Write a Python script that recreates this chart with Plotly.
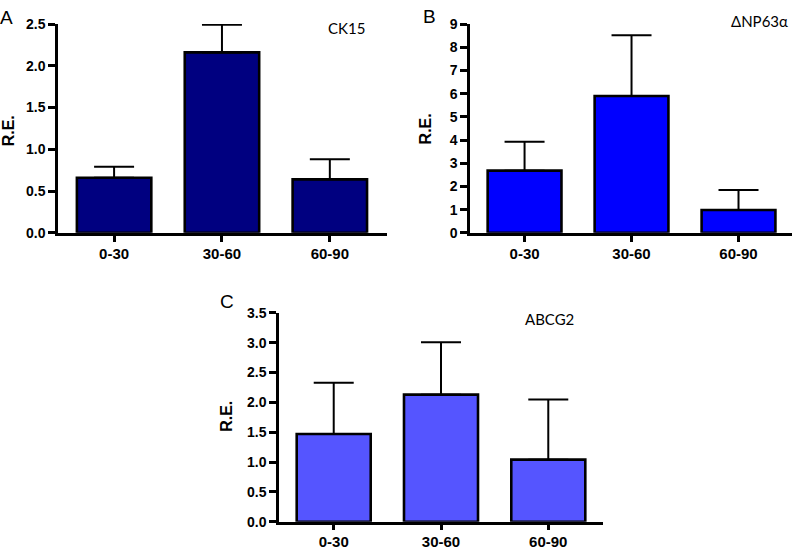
import plotly.graph_objects as go

W, H = 796, 553

categories = ["0-30", "30-60", "60-90"]

ck15_mean = [0.66, 2.16, 0.64]
ck15_upper = [0.79, 2.49, 0.88]

dnp63_mean = [2.68, 5.90, 0.98]
dnp63_upper = [3.92, 8.52, 1.85]

abcg2_mean = [1.47, 2.13, 1.04]
abcg2_upper = [2.33, 3.01, 2.05]

panel_letters = ["A", "B", "C"]
gene_labels = ["CK15", "\u0394NP63\u03b1", "ABCG2"]
y_title = "R.E."


def px(x):
    return x / W


def py(y):
    return 1 - y / H


fig = go.Figure()

panels = [
    dict(mean=ck15_mean, upper=ck15_upper, color="#000080", xd=(58, 387), yd=(16.5, 231.5),
         xr=[-0.52, 2.53], yr=[0, 2.5], dtick=0.5, fmt=".1f", ax="",
         letter=(6.5, 10), ytitle=(8, 127), label=(346, 21)),
    dict(mean=dnp63_mean, upper=dnp63_upper, color="#0000FF", xd=(470, 792), yd=(16.5, 231.5),
         xr=[-0.51, 2.5], yr=[0, 9], dtick=1, fmt="d", ax="2",
         letter=(429, 9), ytitle=(425, 124), label=(759, 13)),
    dict(mean=abcg2_mean, upper=abcg2_upper, color="#5555FF", xd=(279, 603), yd=(314, 529),
         xr=[-0.51, 2.51], yr=[0, 3.5], dtick=0.5, fmt=".1f", ax="3",
         letter=(227.5, 302), ytitle=(227, 421), label=(549, 320)),
]

ytick_font = dict(family="Arial, Liberation Sans", size=14, color="black", weight="bold")
xtick_font = dict(family="Arial, Liberation Sans", size=15, color="black", weight="bold")
annotations = []
for i, p in enumerate(panels):
    err = [u - m for u, m in zip(p["upper"], p["mean"])]
    fig.add_trace(go.Bar(
        x=categories, y=p["mean"], width=0.69,
        marker=dict(color=p["color"], line=dict(color="black", width=2.6)),
        error_y=dict(type="data", symmetric=False, array=err, arrayminus=[0, 0, 0],
                     color="black", thickness=2, width=20),
        xaxis="x" + p["ax"], yaxis="y" + p["ax"], showlegend=False,
    ))
    xa = dict(domain=[px(p["xd"][0]), px(p["xd"][1])], range=p["xr"], type="category",
              showline=True, linecolor="black", linewidth=2.5, ticks="outside",
              ticklen=6, tickwidth=2.5, tickcolor="black", showgrid=False, zeroline=False,
              tickfont=xtick_font, anchor="y" + p["ax"], fixedrange=True,
              ticklabelstandoff=-1)
    ya = dict(domain=[py(p["yd"][1]), py(p["yd"][0])], range=p["yr"], dtick=p["dtick"],
              tick0=0, tickformat=p["fmt"], showline=True, linecolor="black", linewidth=2.5,
              ticks="outside", ticklen=7, tickwidth=2.5, tickcolor="black", showgrid=False,
              zeroline=False, tickfont=ytick_font, anchor="x" + p["ax"], fixedrange=True)
    fig.update_layout(**{"xaxis" + p["ax"]: xa, "yaxis" + p["ax"]: ya})

    annotations.append(dict(text=panel_letters[i], x=px(p["letter"][0]), y=py(p["letter"][1]),
                            xref="paper", yref="paper", showarrow=False,
                            xanchor="center", yanchor="middle",
                            font=dict(family="Arial, Liberation Sans", size=19, color="black")))
    annotations.append(dict(text=y_title, x=px(p["ytitle"][0]), y=py(p["ytitle"][1]),
                            xref="paper", yref="paper", showarrow=False, textangle=-90,
                            xanchor="center", yanchor="middle",
                            font=dict(family="Arial, Liberation Sans", size=16, color="black",
                                      weight="bold")))
    annotations.append(dict(text=gene_labels[i], x=px(p["label"][0]), y=py(p["label"][1]),
                            xref="paper", yref="paper", showarrow=False,
                            xanchor="center", yanchor="middle",
                            font=dict(family="Lato, Open Sans", size=15, color="black")))

fig.update_layout(width=W, height=H, margin=dict(l=0, r=0, t=0, b=0),
                  paper_bgcolor="white", plot_bgcolor="white",
                  annotations=annotations, showlegend=False)

# remove the browser's default 8px body margin so the figure sits at the page origin
fig.write_html("out.html", config={"displayModeBar": False},
               post_script="document.body.style.margin='0';document.body.style.overflow='hidden';")
